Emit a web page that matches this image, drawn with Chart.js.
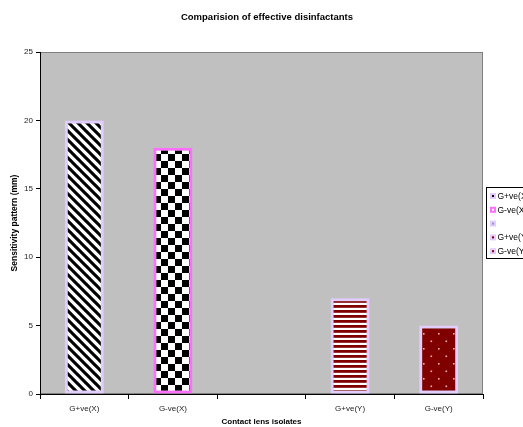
<!DOCTYPE html>
<html>
<head>
<meta charset="utf-8">
<script src="https://cdn.jsdelivr.net/npm/chart.js@4/dist/chart.umd.min.js"></script>
<style>
  html, body { margin: 0; padding: 0; background: #ffffff; overflow: hidden; }
  canvas { display: block; }
</style>
</head>
<body>
<canvas id="chart" width="523" height="427"></canvas>
<script>
// Isolates on the category axis (the third slot is an empty gap)
const categories = ['G+ve(X)', 'G-ve(X)', '', 'G+ve(Y)', 'G-ve(Y)'];
// Zone of inhibition, mm
const sensitivity = [20, 18, null, 7, 5];
// Legend entries, one per isolate
const seriesNames = ['G+ve(X)', 'G-ve(X)', '', 'G+ve(Y)', 'G-ve(Y)'];
// Value axis ticks
const yTicks = [0, 5, 10, 15, 20, 25];

const FONT = "'Liberation Sans', Arial, sans-serif";
const MAROON = '#800000';
const LAVENDER = '#E3CCFF';
const MAGENTA = '#FF6EFF';

function tile(w, h, paint) {
  const c = document.createElement('canvas');
  c.width = w; c.height = h;
  const g = c.getContext('2d');
  paint(g, w, h);
  return c;
}

// Fill patterns for each bar
function makePatterns(ctx) {
  const diag = tile(9, 9, (g, w, h) => {
    g.fillStyle = '#ffffff'; g.fillRect(0, 0, w, h);
    g.strokeStyle = '#000000'; g.lineWidth = 3.1;
    for (const x0 of [-w, 0, w]) {
      g.beginPath(); g.moveTo(x0 - 1, -1); g.lineTo(x0 + w + 1, h + 1); g.stroke();
    }
  });
  const checker = tile(14, 14, (g, w, h) => {
    g.fillStyle = '#ffffff'; g.fillRect(0, 0, w, h);
    g.fillStyle = '#000000';
    g.fillRect(0, 0, 7, 7); g.fillRect(7, 7, 7, 7);
  });
  const hstripe = tile(4, 5, (g, w, h) => {
    g.fillStyle = '#ffffff'; g.fillRect(0, 0, w, h);
    g.fillStyle = MAROON;
    g.fillRect(0, 0, w, 2.8);
  });
  const dots = tile(15, 15, (g, w, h) => {
    g.fillStyle = MAROON; g.fillRect(0, 0, w, h);
    g.fillStyle = '#E8B4B4';
    g.fillRect(3, 3, 1.6, 1.6); g.fillRect(10.5, 10.5, 1.6, 1.6);
  });
  return [
    ctx.createPattern(diag, 'repeat'),
    ctx.createPattern(checker, 'repeat'),
    '#9999CC',
    ctx.createPattern(hstripe, 'repeat'),
    ctx.createPattern(dots, 'repeat')
  ];
}

const canvas = document.getElementById('chart');
const ctx2d = canvas.getContext('2d');
const fills = makePatterns(ctx2d);
const borders = [LAVENDER, MAGENTA, LAVENDER, LAVENDER, LAVENDER];
const legendInner = ['#000000', '#ffffff', '#8899DD', MAROON, MAROON];

// Grey plot area with a thin darker frame
const plotBackground = {
  id: 'plotBackground',
  beforeDraw(chart) {
    const { ctx, chartArea: a } = chart;
    ctx.save();
    ctx.fillStyle = '#C0C0C0';
    ctx.fillRect(a.left, a.top, a.right - a.left, a.bottom - a.top);
    ctx.strokeStyle = '#808080';
    ctx.lineWidth = 1;
    ctx.strokeRect(a.left + 0.5, a.top + 0.5, a.right - a.left - 1, a.bottom - a.top - 1);
    ctx.restore();
  }
};

// Chart heading
const heading = {
  id: 'heading',
  afterDraw(chart) {
    const ctx = chart.ctx;
    ctx.save();
    ctx.font = 'bold 9.5px ' + FONT;
    ctx.fillStyle = '#000000';
    ctx.textAlign = 'center';
    ctx.textBaseline = 'middle';
    ctx.fillText('Comparision of effective disinfactants', 267, 17);
    ctx.restore();
  }
};

// Boxed legend at the right edge
const sideLegend = {
  id: 'sideLegend',
  afterDraw(chart) {
    const ctx = chart.ctx;
    const x = 486.5, y = 187.5, w = 60, rowH = 13.8;
    ctx.save();
    ctx.fillStyle = '#ffffff';
    ctx.fillRect(x, y, w, rowH * seriesNames.length + 2);
    ctx.strokeStyle = '#000000';
    ctx.lineWidth = 1;
    ctx.strokeRect(x, y, w, rowH * seriesNames.length + 2);
    ctx.font = '8.5px ' + FONT;
    ctx.textBaseline = 'middle';
    ctx.textAlign = 'left';
    seriesNames.forEach((name, i) => {
      const cy = y + 8.5 + i * rowH;
      ctx.fillStyle = borders[i];
      ctx.fillRect(490, cy - 3, 6, 6);
      ctx.fillStyle = legendInner[i];
      ctx.fillRect(492, cy - 1, 2, 2);
      ctx.fillStyle = '#000000';
      ctx.fillText(name, 497.5, cy + 0.5);
    });
    ctx.restore();
  }
};

new Chart(canvas, {
  type: 'bar',
  data: {
    labels: categories,
    datasets: [{
      data: sensitivity,
      backgroundColor: fills,
      borderColor: borders,
      borderWidth: 3,
      borderSkipped: false,
      barPercentage: 0.44,
      categoryPercentage: 1.0
    }]
  },
  options: {
    responsive: false,
    animation: false,
    devicePixelRatio: 1,
    layout: { padding: { top: 52, right: 40, left: 0, bottom: 0 } },
    plugins: {
      legend: { display: false },
      title: { display: false },
      tooltip: { enabled: false }
    },
    scales: {
      x: {
        type: 'category',
        offset: true,
        grid: {
          offset: true,
          drawOnChartArea: false,
          drawTicks: true,
          tickLength: 5,
          color: '#000000'
        },
        border: { display: true, color: '#000000', width: 1 },
        ticks: {
          color: '#222222',
          font: { family: FONT, size: 8 },
          padding: 5,
          maxRotation: 0,
          autoSkip: false
        },
        title: {
          display: true,
          text: 'Contact lens isolates',
          color: '#000000',
          font: { family: FONT, size: 8, weight: 'bold' },
          padding: { top: -3, bottom: 0 }
        },
        afterFit(scale) { scale.height = 33; }
      },
      y: {
        min: 0,
        max: 25,
        afterBuildTicks(scale) { scale.ticks = yTicks.map(v => ({ value: v })); },
        grid: {
          drawOnChartArea: false,
          drawTicks: true,
          tickLength: 4,
          color: '#000000'
        },
        border: { display: true, color: '#000000', width: 1 },
        ticks: {
          color: '#222222',
          font: { family: FONT, size: 8 },
          padding: 3
        },
        title: {
          display: true,
          text: 'Sensitivity pattern (mm)',
          color: '#000000',
          font: { family: FONT, size: 8.5, weight: 'bold' },
          padding: { top: 10, bottom: 0 }
        },
        afterFit(scale) { scale.width = 40; }
      }
    }
  },
  plugins: [plotBackground, heading, sideLegend]
});
</script>
</body>
</html>
